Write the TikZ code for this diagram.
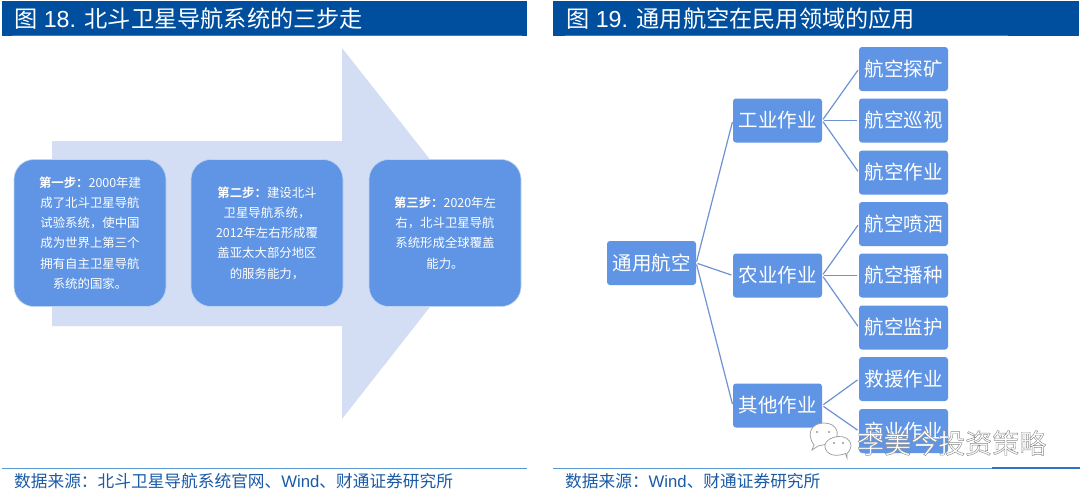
\documentclass[tikz,border=0pt]{standalone}
\usepackage{fontspec}
\setmainfont{Liberation Sans}
\newfontfamily\cjk{Noto Sans CJK SC}[BoldFont={Noto Sans CJK SC Bold}]
\definecolor{barblue}{HTML}{004E9E}
\definecolor{boxblue}{HTML}{5F95E4}
\definecolor{arrowblue}{HTML}{D3DEF4}
\definecolor{linkblue}{HTML}{6D93D3}
\definecolor{srcblue}{HTML}{1A5AA6}
\definecolor{ruleblue}{HTML}{5B9BD5}
\definecolor{ruledark}{HTML}{2E75C6}
\definecolor{barline}{HTML}{3F78B4}
\definecolor{wmgrey}{HTML}{9A9A9A}
\tikzset{
  x=1pt,y=-1pt,
  titlebar/.style={fill=barblue,draw=none},
  titletext/.style={anchor=west,text=white,font=\fontsize{23.2}{26}\selectfont,inner sep=0pt},
  srctext/.style={anchor=west,text=srcblue,font=\fontsize{16.7}{19}\selectfont,inner sep=0pt},
  footrule/.style={draw=ruleblue,line width=1pt},
  stepbox/.style={draw=white!60!boxblue,line width=.6pt,fill=boxblue,rounded corners=20pt,minimum width=152pt,minimum height=147pt,inner sep=0pt,text=white,align=center,font=\fontsize{12.4}{20.3}\selectfont\cjk},
  leaf/.style={fill=boxblue,rounded corners=3pt,minimum width=89pt,minimum height=44pt,inner sep=0pt,text=white,font=\fontsize{19.5}{22}\selectfont\cjk},
  link/.style={draw=linkblue,line width=1.2pt,shorten >=1.5pt,shorten <=1.5pt},
  bubble/.style={draw=wmgrey,line width=.7pt,fill=white},
  eye/.style={fill=wmgrey},
}
\begin{document}
\begin{tikzpicture}
\useasboundingbox (0,0) rectangle (1080,491);
\fill[white] (0,0) rectangle (1080,491);
% panel 18
\fill[titlebar] (2,1) rectangle (527,36);
\draw[barline,line width=.6pt] (12,35.4) -- (522,35.4);
\node[titletext] (t1) at (14,19) {{\cjk 图} 18. {\cjk 北斗卫星导航系统的三步走}};
\fill[arrowblue] (52,141) -- (342,141) -- (342,48) -- (488,233) -- (342,419) -- (342,326) -- (52,326) -- cycle;
\node[stepbox] (s1) at (90,233) {\textbf{第一步：}2000年建\\成了北斗卫星导航\\试验系统，使中国\\成为世界上第三个\\拥有自主卫星导航\\系统的国家。};
\node[stepbox] (s2) at (267,233) {\textbf{第二步：}建设北斗\\卫星导航系统，\\2012年左右形成覆\\盖亚太大部分地区\\的服务能力，};
\node[stepbox] (s3) at (445,233) {\textbf{第三步：}2020年左\\右，北斗卫星导航\\系统形成全球覆盖\\能力。};
\draw[footrule] (2,468) -- (527,468);
\node[srctext] (f1) at (14,481) {{\cjk 数据来源：北斗卫星导航系统官网、}Wind{\cjk 、财通证券研究所}};
% panel 19
\fill[titlebar] (553,1) rectangle (1079,36);
\draw[barline,line width=.6pt] (565,35.4) -- (1008,35.4);
\node[titletext] (t2) at (566,19) {{\cjk 图} 19. {\cjk 通用航空在民用领域的应用}};
\node[leaf] (root) at (651.5,263) {通用航空};
\node[leaf] (a) at (777.5,120.5) {工业作业};
\node[leaf] (b) at (777.5,275.5) {农业作业};
\node[leaf] (c) at (777.5,405.5) {其他作业};
\node[leaf] (a1) at (903.5,69) {航空探矿};
\node[leaf] (a2) at (903.5,120.5) {航空巡视};
\node[leaf] (a3) at (903.5,172.5) {航空作业};
\node[leaf] (b1) at (903.5,224) {航空喷洒};
\node[leaf] (b2) at (903.5,275.5) {航空播种};
\node[leaf] (b3) at (903.5,327.5) {航空监护};
\node[leaf] (c1) at (903.5,379) {救援作业};
\node[leaf] (c2) at (903.5,431) {商业作业};
\foreach \p/\q in {root/a,root/b,root/c,a/a1,a/a2,a/a3,b/b1,b/b2,b/b3,c/c1,c/c2}
  \draw[link] (\p.east) -- (\q.west);
\draw[footrule] (553,468) -- (992,468);
\draw[ruledark,line width=1.2pt] (992,468) -- (1080,468);
\node[srctext] (f2) at (565,481) {{\cjk 数据来源：}Wind{\cjk 、财通证券研究所}};
% watermark
\draw[bubble] (812,450) -- (814,445) .. controls (806,434) and (811,423) .. (824,423) .. controls (837,423) and (842,435) .. (832,443) -- (818,446) -- cycle;
\draw[bubble] (847,458) -- (845.5,453.5) .. controls (831,459) and (824,451) .. (825,445) .. controls (826,436) and (850,431) .. (851,446) .. controls (851,449) and (849,452) .. (847,453.5) -- cycle;
\fill[eye] (817,432) circle (1.2);
\fill[eye] (829,432) circle (1.2);
\fill[eye] (834,443) circle (1.1);
\fill[eye] (843,443) circle (1.1);
\node[anchor=west,inner sep=0pt,text=white,font=\fontsize{27}{29}\selectfont\cjk] (wm) at (857,443) {\special{pdf:code 2 Tr 0.45 w 0.55 0.55 0.55 RG}李美今投资策略\special{pdf:code 0 Tr}};
\end{tikzpicture}
\end{document}
